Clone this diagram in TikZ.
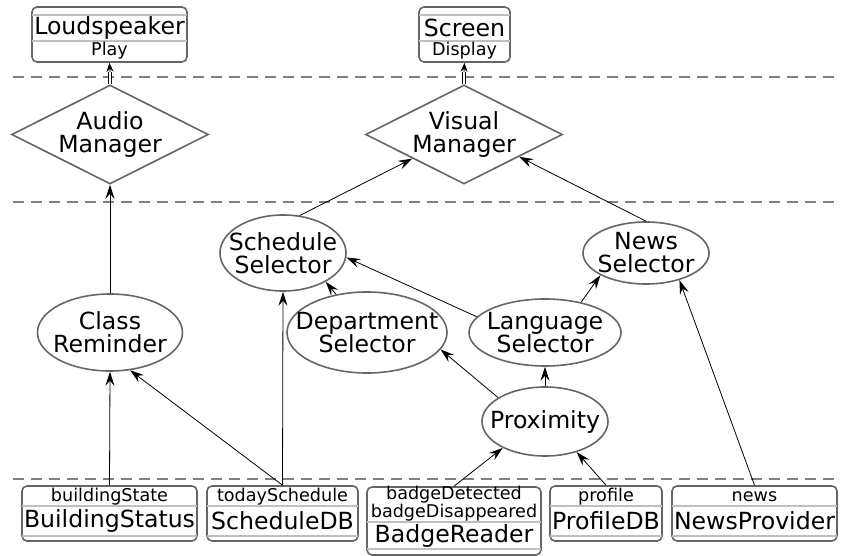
\documentclass[tikz,border=0pt]{standalone}
\usepackage{fontspec}
\setmainfont{DejaVu Sans}
\usetikzlibrary{shapes.geometric,arrows.meta}

\begin{document}
\begin{tikzpicture}%
	[x=1pt, y=-1pt,
	lane/.style={color=black!50, line width=1.5pt, dash pattern=on 11pt off 7pt},
	unit/.style={draw=black!60, line width=1.6pt, rounded corners=5pt, inner sep=0pt},
	part/.style={color=black!25, line width=1.4pt},
	label/.style={inner sep=0pt, align=center, font=\fontsize{23.6}{23}\selectfont},
	attr/.style={inner sep=0pt, align=center, font=\fontsize{17.6}{18}\selectfont},
	manager/.style={diamond, draw=black!60, line width=1.6pt, aspect=2, inner sep=0pt,
		minimum width=197pt, minimum height=99pt, align=center, font=\fontsize{23.6}{23}\selectfont},
	selector/.style={ellipse, draw=black!60, line width=1.6pt, inner sep=0pt},
	flow/.style={-{Stealth[length=14pt, width=9pt, inset=5pt]}, line width=0.8pt},
	push/.style={double, double distance=2pt, line width=0.7pt},
	pushtip/.style={-{Stealth[length=9pt, width=7pt, inset=3pt]}, line width=0.8pt}]
%
\useasboundingbox (0,0) rectangle (841,556);
%%
%% Layers
%%
\draw[lane] (13,77) -- (838,77);
\draw[lane] (13,202) -- (838,202);
\draw[lane] (13,479) -- (838,479);
%%
%% Output devices
%%
\node[unit, minimum width=155pt, minimum height=55pt] (speaker) at (109.5,34.5) {};
\draw[part] (32,15) -- (187,15);
\draw[part] (32,41) -- (187,41);
\node[label] (speakername) at (109.5,28) {Loudspeaker};
\node[attr] (speakerop) at (109.5,51) {Play};
%
\node[unit, minimum width=91pt, minimum height=55pt] (screen) at (464.5,34.5) {};
\draw[part] (419,15) -- (510,15);
\draw[part] (419,41) -- (510,41);
\node[label] (screenname) at (464.5,28) {Screen};
\node[attr] (screenop) at (464.5,51) {Display};
%%
%% Managers
%%
\node[manager] (audio) at (110,134.5) {Audio\\Manager};
\node[manager] (visual) at (464,134.5) {Visual\\Manager};
%%
%% Context nodes
%%
\node[selector, minimum width=126pt, minimum height=76pt] (sched) at (283,253) {};
\node[selector, minimum width=126pt, minimum height=62pt] (news) at (646,253) {};
\node[selector, minimum width=145pt, minimum height=77pt] (classrem) at (110,332.5) {};
\node[selector, minimum width=160pt, minimum height=81pt] (dept) at (367,332.5) {};
\node[selector, minimum width=152pt, minimum height=67pt] (lang) at (545,332.5) {};
\node[selector, minimum width=126pt, minimum height=69pt] (prox) at (545,421.5) {};
\node[label] (schedtext) at (sched) {Schedule\\Selector};
\node[label] (newstext) at (news) {News\\Selector};
\node[label] (classremtext) at (classrem) {Class\\Reminder};
\node[label] (depttext) at (dept) {Department\\Selector};
\node[label] (langtext) at (lang) {Language\\Selector};
\node[label] (proxtext) at (prox) {Proximity};
%%
%% Input devices
%%
\node[unit, minimum width=175pt, minimum height=55pt] (bstatus) at (109.5,513.5) {};
\draw[part] (22,506) -- (197,506);
\draw[part] (22,536) -- (197,536);
\node[attr] (bstatusattr) at (109.5,497) {buildingState};
\node[label] (bstatusname) at (109.5,521) {BuildingStatus};
%
\node[unit, minimum width=151pt, minimum height=55pt] (sdb) at (282.5,513.5) {};
\draw[part] (207,506) -- (358,506);
\draw[part] (207,536) -- (358,536);
\node[attr] (sdbattr) at (282.5,497) {todaySchedule};
\node[label] (sdbname) at (282.5,521) {ScheduleDB};
%
\node[unit, minimum width=174pt, minimum height=68pt] (breader) at (454,521) {};
\draw[part] (367,522) -- (541,522);
\draw[part] (367,549) -- (541,549);
\node[attr] (breaderattr) at (454,504) {badgeDetected\\badgeDisappeared};
\node[label] (breadername) at (454,536) {BadgeReader};
%
\node[unit, minimum width=112pt, minimum height=55pt] (pdb) at (606,513.5) {};
\draw[part] (550,506) -- (662,506);
\draw[part] (550,536) -- (662,536);
\node[attr] (pdbattr) at (606,497) {profile};
\node[label] (pdbname) at (606,521) {ProfileDB};
%
\node[unit, minimum width=165pt, minimum height=55pt] (nprov) at (754.5,513.5) {};
\draw[part] (672,506) -- (837,506);
\draw[part] (672,536) -- (837,536);
\node[attr] (nprovattr) at (754.5,497) {news};
\node[label] (nprovname) at (754.5,521) {NewsProvider};
%%
%% Connectors
%%
\coordinate (speakertip) at (110,72);
\coordinate (screentip) at (464,72);
\draw[push] (audio.north) -- (speakertip);
\draw[pushtip] (speakertip) -- (speaker.south);
\draw[push] (visual.north) -- (screentip);
\draw[pushtip] (screentip) -- (screen.south);
%
\draw[flow] (classrem.north) -- (audio.south);
\draw[flow] (sched.66) -- (visual.205);
\draw[flow] (news.north) -- (visual.338);
\draw[flow] (dept.129) -- (sched.326);
\draw[flow] (lang.167) -- (sched.356);
\draw[flow] (lang.40) -- (news.206);
\draw[flow] (prox.153) -- (dept.347);
\draw[flow] (prox.north) -- (lang.south);
%
\draw[flow] (bstatus.north) -- (classrem.south);
\draw[flow] (sdb.north) -- (classrem.298);
\draw[flow] (sdb.north) -- (sched.south);
\draw[flow] (breader.north) -- (prox.212);
\draw[flow] (pdb.north) -- (prox.316);
\draw[flow] (nprov.north) -- (news.321);
%%
\end{tikzpicture}
\end{document}
